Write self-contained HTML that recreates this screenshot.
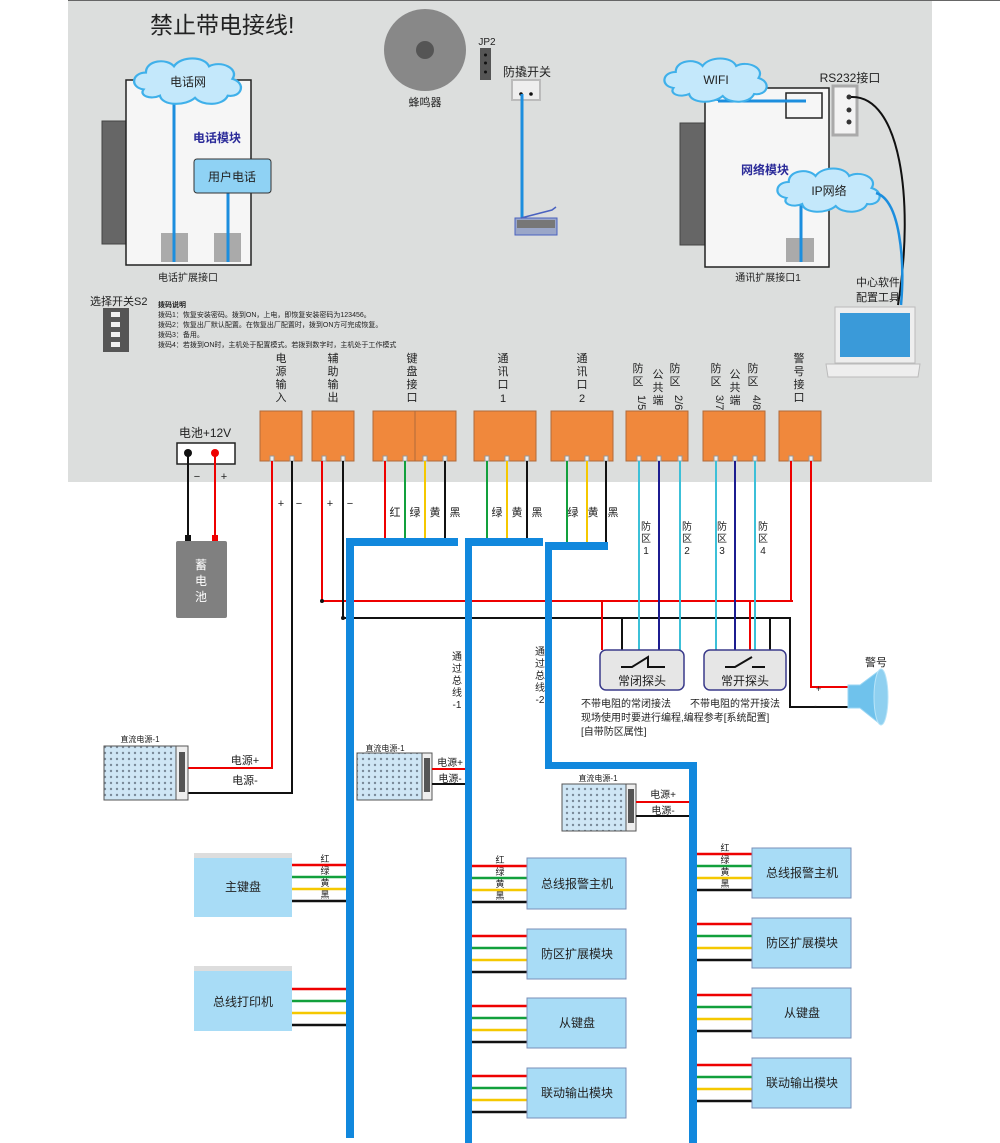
<!DOCTYPE html>
<html><head><meta charset="utf-8"><style>
body{margin:0;background:#fff}
svg{display:block}
text{font-family:"Liberation Sans","Noto Sans CJK SC",sans-serif;fill:#222}
</style></head><body>
<svg width="1000" height="1143" viewBox="0 0 1000 1143" xmlns="http://www.w3.org/2000/svg">
<defs>
<pattern id="dots" width="6" height="6" patternUnits="userSpaceOnUse"><rect width="6" height="6" fill="#cfe6f5"/><circle cx="3" cy="3" r="1.2" fill="#7a8a99"/></pattern>
<g id="cloud"><path d="M-38,8 C-50,6 -48,-8 -36,-8 C-36,-20 -18,-22 -12,-14 C-6,-24 14,-24 18,-14 C28,-20 44,-12 38,-2 C50,2 46,16 34,14 C30,24 12,24 6,16 C-2,24 -22,24 -24,14 C-32,18 -42,14 -38,8 Z" fill="#c4e8fb" stroke="#3fb0ea" stroke-width="2"/></g>
</defs>
<rect x="68" y="0" width="864" height="482" fill="#dcdedd"/>
<line x1="68" y1="0.5" x2="1000" y2="0.5" stroke="#666"/>
<text x="150" y="33" font-size="23">禁止带电接线!</text>

<!-- phone module -->
<rect x="102" y="121" width="25" height="123" fill="#666" stroke="#444"/>
<rect x="126" y="80" width="125" height="185" fill="#f6f6f6" stroke="#222" stroke-width="1.5"/>
<rect x="161" y="233" width="27" height="29" fill="#aaa"/><rect x="214" y="233" width="27" height="29" fill="#aaa"/>
<line x1="174" y1="95" x2="174" y2="262" stroke="#1c8ede" stroke-width="3"/>
<line x1="228" y1="193" x2="228" y2="262" stroke="#1c8ede" stroke-width="3"/>
<use href="#cloud" transform="translate(188,81) scale(1.17,1.05)"/>
<text x="188" y="86" font-size="12" text-anchor="middle">电话网</text>
<text x="217" y="142" font-size="12" font-weight="bold" fill="#2b2b99" text-anchor="middle" style="fill:#2b2b99">电话模块</text>
<rect x="194" y="159" width="77" height="34" rx="3" fill="#8fd2f4" stroke="#333"/>
<text x="232" y="181" font-size="12" text-anchor="middle">用户电话</text>
<text x="188" y="281" font-size="10" text-anchor="middle">电话扩展接口</text>

<!-- buzzer etc -->
<circle cx="425" cy="50" r="41" fill="#888"/><circle cx="425" cy="50" r="9" fill="#555"/>
<text x="425" y="106" font-size="11" text-anchor="middle">蜂鸣器</text>
<text x="487" y="45" font-size="10" text-anchor="middle">JP2</text>
<rect x="480" y="48" width="11" height="32" fill="#555"/>
<circle cx="485.5" cy="55" r="1.5" fill="#111"/><circle cx="485.5" cy="63" r="1.5" fill="#111"/><circle cx="485.5" cy="72" r="1.5" fill="#111"/>
<text x="527" y="76" font-size="12" text-anchor="middle">防撬开关</text>
<rect x="512" y="80" width="28" height="20" fill="#eee" stroke="#bbb" stroke-width="2"/>
<circle cx="521" cy="94" r="1.8" fill="#111"/><circle cx="531" cy="94" r="1.8" fill="#111"/>
<line x1="522" y1="94" x2="522" y2="222" stroke="#1c8ede" stroke-width="3"/>
<rect x="515" y="218" width="42" height="17" fill="#9aa6c8" stroke="#4a62c0"/>
<rect x="517" y="220" width="38" height="8" fill="#777"/>
<path d="M521,218 L552,210 L556,207" stroke="#4a62c0" stroke-width="1.5" fill="none"/>

<!-- network module -->
<rect x="680" y="123" width="25" height="122" fill="#666" stroke="#444"/>
<rect x="705" y="88" width="124" height="179" fill="#f6f6f6" stroke="#222" stroke-width="1.5"/>
<rect x="786" y="93" width="36" height="25" fill="none" stroke="#222" stroke-width="1.5"/>
<line x1="718" y1="101" x2="806" y2="101" stroke="#1c8ede" stroke-width="3"/>
<line x1="718" y1="90" x2="718" y2="101" stroke="#1c8ede" stroke-width="3"/>
<rect x="786" y="238" width="28" height="24" fill="#aaa"/>
<line x1="801" y1="200" x2="801" y2="262" stroke="#1c8ede" stroke-width="3"/>
<use href="#cloud" transform="translate(716,80) scale(1.12,1.0)"/>
<text x="716" y="84" font-size="12" text-anchor="middle">WIFI</text>
<text x="765" y="174" font-size="12" font-weight="bold" text-anchor="middle" style="fill:#2b2b99">网络模块</text>
<use href="#cloud" transform="translate(829,190) scale(1.12,1.0)"/>
<text x="829" y="195" font-size="12" text-anchor="middle">IP网络</text>
<text x="768" y="281" font-size="10" text-anchor="middle">通讯扩展接口1</text>
<text x="850" y="82" font-size="12" text-anchor="middle">RS232接口</text>
<rect x="833" y="86" width="24" height="49" fill="#f3f3f3" stroke="#aaa" stroke-width="3"/>
<circle cx="849" cy="97" r="2.5" fill="#333"/><circle cx="849" cy="110" r="2.5" fill="#333"/><circle cx="849" cy="122" r="2.5" fill="#333"/>
<path d="M851,97 C900,95 915,200 898,305" stroke="#111" stroke-width="2" fill="none"/>
<path d="M876,193 C900,200 905,260 901,305" stroke="#1c8ede" stroke-width="2.5" fill="none"/>
<text x="878" y="286" font-size="11" text-anchor="middle">中心软件</text>
<text x="878" y="301" font-size="11" text-anchor="middle">配置工具</text>
<rect x="835" y="307" width="80" height="56" fill="#eee" stroke="#bbb"/>
<rect x="840" y="313" width="70" height="44" fill="#3a9ad9"/>
<path d="M826,364 L920,364 L918,377 L828,377 Z" fill="#eee" stroke="#bbb"/>

<!-- DIP -->
<text x="90" y="305" font-size="11">选择开关S2</text>
<rect x="103" y="308" width="26" height="44" fill="#555"/>
<rect x="111" y="312" width="9" height="5" fill="#eee"/><rect x="111" y="322" width="9" height="5" fill="#eee"/><rect x="111" y="332" width="9" height="5" fill="#eee"/><rect x="111" y="342" width="9" height="5" fill="#eee"/>
<text x="158" y="307" font-size="7" font-weight="bold">拨码说明</text>
<text x="158" y="317" font-size="7">拨码1：恢复安装密码。拨到ON，上电，即恢复安装密码为123456。</text>
<text x="158" y="327" font-size="7">拨码2：恢复出厂默认配置。在恢复出厂配置时，拨到ON方可完成恢复。</text>
<text x="158" y="337" font-size="7">拨码3：备用。</text>
<text x="158" y="347" font-size="7">拨码4：若拨到ON时，主机处于配置模式。若拨到数字时，主机处于工作模式</text>

<!-- terminal labels -->
<g font-size="11" text-anchor="middle">
<text x="281" y="362"><tspan x="281">电</tspan><tspan x="281" dy="13">源</tspan><tspan x="281" dy="13">输</tspan><tspan x="281" dy="13">入</tspan></text>
<text x="333" y="362"><tspan x="333">辅</tspan><tspan x="333" dy="13">助</tspan><tspan x="333" dy="13">输</tspan><tspan x="333" dy="13">出</tspan></text>
<text x="412" y="362"><tspan x="412">键</tspan><tspan x="412" dy="13">盘</tspan><tspan x="412" dy="13">接</tspan><tspan x="412" dy="13">口</tspan></text>
<text x="503" y="362"><tspan x="503">通</tspan><tspan x="503" dy="13">讯</tspan><tspan x="503" dy="13">口</tspan><tspan x="503" dy="14">1</tspan></text>
<text x="582" y="362"><tspan x="582">通</tspan><tspan x="582" dy="13">讯</tspan><tspan x="582" dy="13">口</tspan><tspan x="582" dy="14">2</tspan></text>
<text x="638" y="372"><tspan x="638">防</tspan><tspan x="638" dy="13">区</tspan></text>
<text x="643" y="390" transform="rotate(90 638 390)" text-anchor="start">1/5</text>
<text x="658" y="378"><tspan x="658">公</tspan><tspan x="658" dy="13">共</tspan><tspan x="658" dy="13">端</tspan></text>
<text x="675" y="372"><tspan x="675">防</tspan><tspan x="675" dy="13">区</tspan></text>
<text x="680" y="390" transform="rotate(90 675 390)" text-anchor="start">2/6</text>
<text x="716" y="372"><tspan x="716">防</tspan><tspan x="716" dy="13">区</tspan></text>
<text x="721" y="390" transform="rotate(90 716 390)" text-anchor="start">3/7</text>
<text x="735" y="378"><tspan x="735">公</tspan><tspan x="735" dy="13">共</tspan><tspan x="735" dy="13">端</tspan></text>
<text x="753" y="372"><tspan x="753">防</tspan><tspan x="753" dy="13">区</tspan></text>
<text x="758" y="390" transform="rotate(90 753 390)" text-anchor="start">4/8</text>
<text x="799" y="362"><tspan x="799">警</tspan><tspan x="799" dy="13">号</tspan><tspan x="799" dy="13">接</tspan><tspan x="799" dy="13">口</tspan></text>
</g>

<!-- terminals -->
<g fill="#f0883c" stroke="#b06a3a">
<rect x="260" y="411" width="42" height="50"/><rect x="312" y="411" width="42" height="50"/>
<rect x="373" y="411" width="42" height="50"/><rect x="415" y="411" width="41" height="50"/>
<rect x="474" y="411" width="62" height="50"/><rect x="551" y="411" width="62" height="50"/>
<rect x="626" y="411" width="62" height="50"/><rect x="703" y="411" width="62" height="50"/>
<rect x="779" y="411" width="42" height="50"/>
</g>
<g fill="#eee" stroke="#999">
<rect x="270" y="456" width="4" height="5"/><rect x="290" y="456" width="4" height="5"/><rect x="322" y="456" width="4" height="5"/><rect x="341" y="456" width="4" height="5"/>
<rect x="383" y="456" width="4" height="5"/><rect x="403" y="456" width="4" height="5"/><rect x="423" y="456" width="4" height="5"/><rect x="443" y="456" width="4" height="5"/>
<rect x="485" y="456" width="4" height="5"/><rect x="505" y="456" width="4" height="5"/><rect x="525" y="456" width="4" height="5"/>
<rect x="565" y="456" width="4" height="5"/><rect x="585" y="456" width="4" height="5"/><rect x="604" y="456" width="4" height="5"/>
<rect x="637" y="456" width="4" height="5"/><rect x="657" y="456" width="4" height="5"/><rect x="678" y="456" width="4" height="5"/>
<rect x="714" y="456" width="4" height="5"/><rect x="733" y="456" width="4" height="5"/><rect x="753" y="456" width="4" height="5"/>
<rect x="789" y="456" width="4" height="5"/><rect x="809" y="456" width="4" height="5"/>
</g>

<!-- battery -->
<text x="205" y="437" font-size="12" text-anchor="middle">电池+12V</text>
<rect x="177" y="443" width="58" height="21" fill="#fff" stroke="#222" stroke-width="1.5"/>
<line x1="188" y1="453" x2="188" y2="543" stroke="#111" stroke-width="2"/>
<line x1="215" y1="453" x2="215" y2="543" stroke="#e00" stroke-width="2"/>
<circle cx="188" cy="453" r="4" fill="#111"/><circle cx="215" cy="453" r="4" fill="#e00"/>
<text x="197" y="480" font-size="11" text-anchor="middle">−</text><text x="224" y="480" font-size="11" text-anchor="middle">+</text>
<rect x="185" y="535" width="6" height="8" fill="#111"/><rect x="212" y="535" width="6" height="8" fill="#e00"/>
<rect x="176" y="541" width="51" height="77" rx="2" fill="#808080"/>
<text x="201" y="569" font-size="12" text-anchor="middle" style="fill:#fff"><tspan x="201">蓄</tspan><tspan x="201" dy="16">电</tspan><tspan x="201" dy="16">池</tspan></text>

<!-- power wires -->
<g fill="none" stroke-width="2">
<polyline points="272,461 272,768 188,768" stroke="#e00"/>
<polyline points="292,461 292,793 188,793" stroke="#111"/>
<polyline points="322,461 322,601 793,601" stroke="#e00"/>
<polyline points="343,461 343,618 790,618 790,707 848,707" stroke="#111"/>
<polyline points="811,461 811,687 848,687" stroke="#e00"/>
<polyline points="791,461 791,601" stroke="#e00"/>
<line x1="385" y1="461" x2="385" y2="540" stroke="#e00"/>
<line x1="405" y1="461" x2="405" y2="540" stroke="#12a03c"/>
<line x1="425" y1="461" x2="425" y2="540" stroke="#f5c800"/>
<line x1="445" y1="461" x2="445" y2="540" stroke="#111"/>
<line x1="487" y1="461" x2="487" y2="540" stroke="#12a03c"/>
<line x1="507" y1="461" x2="507" y2="540" stroke="#f5c800"/>
<line x1="527" y1="461" x2="527" y2="540" stroke="#111"/>
<line x1="567" y1="461" x2="567" y2="544" stroke="#12a03c"/>
<line x1="587" y1="461" x2="587" y2="544" stroke="#f5c800"/>
<line x1="606" y1="461" x2="606" y2="544" stroke="#111"/>
<line x1="639" y1="461" x2="639" y2="650" stroke="#3cc0d8"/>
<line x1="659" y1="461" x2="659" y2="650" stroke="#1c1c90"/>
<line x1="680" y1="461" x2="680" y2="650" stroke="#3cc0d8"/>
<line x1="716" y1="461" x2="716" y2="650" stroke="#3cc0d8"/>
<line x1="735" y1="461" x2="735" y2="650" stroke="#1c1c90"/>
<line x1="755" y1="461" x2="755" y2="650" stroke="#3cc0d8"/>
<line x1="750" y1="601" x2="750" y2="650" stroke="#e00"/>
<line x1="770" y1="618" x2="770" y2="650" stroke="#111"/>
<line x1="602" y1="601" x2="602" y2="650" stroke="#e00"/>
<line x1="622" y1="618" x2="622" y2="650" stroke="#111"/>
</g>
<circle cx="322" cy="601" r="2" fill="#111"/><circle cx="343" cy="618" r="2" fill="#111"/>
<g font-size="11" text-anchor="middle">
<text x="281" y="507">+</text><text x="299" y="507">−</text><text x="330" y="507">+</text><text x="350" y="507">−</text>
<text x="395" y="516">红</text><text x="415" y="516">绿</text><text x="435" y="516">黄</text><text x="455" y="516">黑</text>
<text x="497" y="516">绿</text><text x="517" y="516">黄</text><text x="537" y="516">黑</text>
<text x="573" y="516">绿</text><text x="593" y="516">黄</text><text x="613" y="516">黑</text>
</g>
<g font-size="10" text-anchor="middle">
<text x="646" y="530"><tspan x="646">防</tspan><tspan x="646" dy="12">区</tspan><tspan x="646" dy="12">1</tspan></text>
<text x="687" y="530"><tspan x="687">防</tspan><tspan x="687" dy="12">区</tspan><tspan x="687" dy="12">2</tspan></text>
<text x="722" y="530"><tspan x="722">防</tspan><tspan x="722" dy="12">区</tspan><tspan x="722" dy="12">3</tspan></text>
<text x="763" y="530"><tspan x="763">防</tspan><tspan x="763" dy="12">区</tspan><tspan x="763" dy="12">4</tspan></text>
<text x="457" y="660"><tspan x="457">通</tspan><tspan x="457" dy="12">过</tspan><tspan x="457" dy="12">总</tspan><tspan x="457" dy="12">线</tspan><tspan x="457" dy="12">-1</tspan></text>
<text x="540" y="655"><tspan x="540">通</tspan><tspan x="540" dy="12">过</tspan><tspan x="540" dy="12">总</tspan><tspan x="540" dy="12">线</tspan><tspan x="540" dy="12">-2</tspan></text>
</g>

<!-- buses -->
<g fill="#1188dd">
<rect x="346" y="538" width="112" height="8"/><rect x="346" y="538" width="8" height="600"/>
<rect x="465" y="538" width="78" height="8"/><rect x="465" y="538" width="7" height="605"/>
<rect x="545" y="542" width="63" height="8"/><rect x="545" y="542" width="7" height="226"/>
<rect x="545" y="762" width="152" height="7"/><rect x="689" y="762" width="8" height="381"/>
</g>

<!-- probes -->
<rect x="600" y="650" width="84" height="40" rx="6" fill="#e6e6e6" stroke="#3a3a8a" stroke-width="1.5"/>
<rect x="704" y="650" width="82" height="40" rx="6" fill="#e6e6e6" stroke="#3a3a8a" stroke-width="1.5"/>
<path d="M621,667 L632,667 L648,657 L648,667 L665,667" stroke="#111" stroke-width="2" fill="none"/>
<path d="M725,667 L735,667 L752,657 M752,667 L765,667" stroke="#111" stroke-width="2" fill="none"/>
<text x="642" y="685" font-size="12" text-anchor="middle">常闭探头</text>
<text x="745" y="685" font-size="12" text-anchor="middle">常开探头</text>
<g font-size="10">
<text x="581" y="707">不带电阻的常闭接法</text>
<text x="690" y="707">不带电阻的常开接法</text>
<text x="581" y="721">现场使用时要进行编程,编程参考[系统配置]</text>
<text x="581" y="735">[自带防区属性]</text>
</g>
<text x="876" y="666" font-size="11" text-anchor="middle">警号</text>
<text x="816" y="692" font-size="9">+</text><text x="814" y="709" font-size="9">-</text>
<path d="M848,685 L860,685 L880,670 L880,724 L860,708 L848,708 Z" fill="#6fc2ec" stroke="#9ad6f4"/>
<ellipse cx="881" cy="697" rx="7" ry="28" fill="#8fd0f0" stroke="#b8e4f8"/>

<!-- PSUs -->
<text x="140" y="742" font-size="8" text-anchor="middle">直流电源-1</text>
<rect x="104" y="746" width="84" height="54" fill="url(#dots)" stroke="#555"/><rect x="176" y="746" width="12" height="54" fill="#eee" stroke="#555"/><rect x="179" y="752" width="6" height="40" fill="#555"/>
<text x="245" y="764" font-size="11" text-anchor="middle">电源+</text><text x="245" y="784" font-size="11" text-anchor="middle">电源-</text>
<text x="385" y="751" font-size="8" text-anchor="middle">直流电源-1</text>
<rect x="357" y="753" width="75" height="47" fill="url(#dots)" stroke="#555"/><rect x="422" y="753" width="10" height="47" fill="#eee" stroke="#555"/><rect x="424" y="758" width="6" height="34" fill="#555"/>
<line x1="432" y1="769" x2="465" y2="769" stroke="#e00" stroke-width="2"/><line x1="432" y1="784" x2="465" y2="784" stroke="#111" stroke-width="2"/>
<text x="450" y="766" font-size="10" text-anchor="middle">电源+</text><text x="450" y="782" font-size="10" text-anchor="middle">电源-</text>
<text x="598" y="781" font-size="8" text-anchor="middle">直流电源-1</text>
<rect x="562" y="784" width="74" height="47" fill="url(#dots)" stroke="#555"/><rect x="626" y="784" width="10" height="47" fill="#eee" stroke="#555"/><rect x="628" y="789" width="6" height="34" fill="#555"/>
<line x1="636" y1="802" x2="689" y2="802" stroke="#e00" stroke-width="2"/><line x1="636" y1="816" x2="689" y2="816" stroke="#111" stroke-width="2"/>
<text x="663" y="798" font-size="10" text-anchor="middle">电源+</text><text x="663" y="814" font-size="10" text-anchor="middle">电源-</text>

<!-- modules -->
<g stroke-width="2.5">
<g stroke="#e00"><line x1="292" y1="865" x2="346" y2="865"/><line x1="292" y1="989" x2="346" y2="989"/><line x1="472" y1="866" x2="527" y2="866"/><line x1="472" y1="936" x2="527" y2="936"/><line x1="472" y1="1006" x2="527" y2="1006"/><line x1="472" y1="1076" x2="527" y2="1076"/><line x1="697" y1="854" x2="752" y2="854"/><line x1="697" y1="924" x2="752" y2="924"/><line x1="697" y1="995" x2="752" y2="995"/><line x1="697" y1="1065" x2="752" y2="1065"/></g>
<g stroke="#12a03c"><line x1="292" y1="877" x2="346" y2="877"/><line x1="292" y1="1001" x2="346" y2="1001"/><line x1="472" y1="878" x2="527" y2="878"/><line x1="472" y1="948" x2="527" y2="948"/><line x1="472" y1="1018" x2="527" y2="1018"/><line x1="472" y1="1088" x2="527" y2="1088"/><line x1="697" y1="866" x2="752" y2="866"/><line x1="697" y1="936" x2="752" y2="936"/><line x1="697" y1="1007" x2="752" y2="1007"/><line x1="697" y1="1077" x2="752" y2="1077"/></g>
<g stroke="#f5c800"><line x1="292" y1="889" x2="346" y2="889"/><line x1="292" y1="1013" x2="346" y2="1013"/><line x1="472" y1="890" x2="527" y2="890"/><line x1="472" y1="960" x2="527" y2="960"/><line x1="472" y1="1030" x2="527" y2="1030"/><line x1="472" y1="1100" x2="527" y2="1100"/><line x1="697" y1="878" x2="752" y2="878"/><line x1="697" y1="948" x2="752" y2="948"/><line x1="697" y1="1019" x2="752" y2="1019"/><line x1="697" y1="1089" x2="752" y2="1089"/></g>
<g stroke="#111"><line x1="292" y1="901" x2="346" y2="901"/><line x1="292" y1="1025" x2="346" y2="1025"/><line x1="472" y1="902" x2="527" y2="902"/><line x1="472" y1="972" x2="527" y2="972"/><line x1="472" y1="1042" x2="527" y2="1042"/><line x1="472" y1="1112" x2="527" y2="1112"/><line x1="697" y1="890" x2="752" y2="890"/><line x1="697" y1="960" x2="752" y2="960"/><line x1="697" y1="1031" x2="752" y2="1031"/><line x1="697" y1="1101" x2="752" y2="1101"/></g>
</g>
<g font-size="9" text-anchor="middle">
<text x="325" y="862">红</text><text x="325" y="874">绿</text><text x="325" y="886">黄</text><text x="325" y="898">黑</text>
<text x="500" y="863">红</text><text x="500" y="875">绿</text><text x="500" y="887">黄</text><text x="500" y="899">黑</text>
<text x="725" y="851">红</text><text x="725" y="863">绿</text><text x="725" y="875">黄</text><text x="725" y="887">黑</text>
</g>
<g fill="#a8dcf6" stroke="#7a8fb8">
<rect x="194" y="853" width="98" height="5" fill="#ddd" stroke="none"/><rect x="194" y="858" width="98" height="59" stroke="none"/>
<rect x="194" y="966" width="98" height="5" fill="#ddd" stroke="none"/><rect x="194" y="971" width="98" height="60" stroke="none"/>
<rect x="527" y="858" width="99" height="51"/><rect x="527" y="929" width="99" height="50"/><rect x="527" y="998" width="99" height="50"/><rect x="527" y="1068" width="99" height="50"/>
<rect x="752" y="848" width="99" height="50"/><rect x="752" y="918" width="99" height="50"/><rect x="752" y="988" width="99" height="50"/><rect x="752" y="1058" width="99" height="50"/>
</g>
<g font-size="12" text-anchor="middle">
<text x="243" y="891">主键盘</text><text x="243" y="1006">总线打印机</text>
<text x="577" y="888">总线报警主机</text><text x="577" y="958">防区扩展模块</text><text x="577" y="1027">从键盘</text><text x="577" y="1097">联动输出模块</text>
<text x="802" y="877">总线报警主机</text><text x="802" y="947">防区扩展模块</text><text x="802" y="1017">从键盘</text><text x="802" y="1087">联动输出模块</text>
</g>
</svg>
</body></html>
